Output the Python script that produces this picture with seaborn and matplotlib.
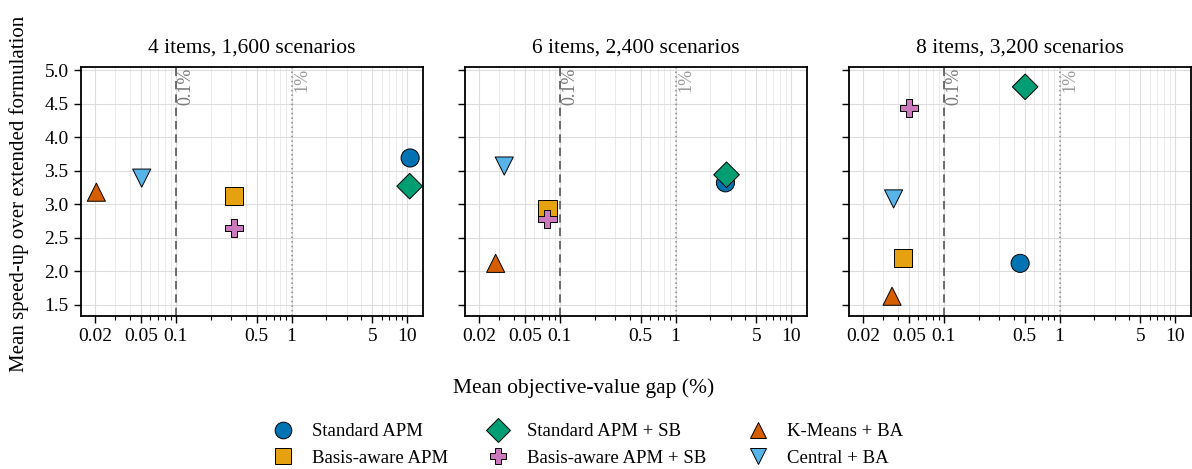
import numpy as np
import pandas as pd
import matplotlib
matplotlib.use("Agg")
import matplotlib.pyplot as plt
import matplotlib.ticker as mticker
import matplotlib.transforms as mtransforms
from matplotlib.lines import Line2D
import seaborn as sns

# ---------------- data ----------------
methods = ["Standard APM", "Basis-aware APM", "Standard APM + SB",
           "Basis-aware APM + SB", "K-Means + BA", "Central + BA"]
panel_titles = ["4 items, 1,600 scenarios", "6 items, 2,400 scenarios",
                "8 items, 3,200 scenarios"]

gap_4 = [10.6, 0.32, 10.5, 0.32, 0.0205, 0.0506]
speed_4 = [3.69, 3.13, 3.27, 2.65, 3.18, 3.39]
gap_6 = [2.70, 0.078, 2.76, 0.078, 0.0278, 0.033]
speed_6 = [3.32, 2.93, 3.44, 2.78, 2.12, 3.57]
gap_8 = [0.456, 0.044, 0.504, 0.050, 0.0356, 0.0367]
speed_8 = [2.12, 2.20, 4.75, 4.43, 1.63, 3.08]

xtick_vals = [0.02, 0.05, 0.1, 0.5, 1, 5, 10]
xtick_labels = ["0.02", "0.05", "0.1", "0.5", "1", "5", "10"]
ytick_vals = [1.5, 2.0, 2.5, 3.0, 3.5, 4.0, 4.5, 5.0]

colors = ["#0173b2", "#e5a10f", "#029e73", "#cc78bc", "#d55e00", "#56b4e9"]
marker_list = ["o", "s", "D", "P", "^", "v"]
palette = dict(zip(methods, colors))
markers = dict(zip(methods, marker_list))

frames = []
for title, g, s in zip(panel_titles, [gap_4, gap_6, gap_8], [speed_4, speed_6, speed_8]):
    frames.append(pd.DataFrame({"panel": title, "method": methods, "gap": g, "speed": s}))
df = pd.concat(frames, ignore_index=True)

# ---------------- style ----------------
sns.set_theme(style="ticks")
plt.rcParams["font.family"] = ["Liberation Serif", "DejaVu Serif"]
plt.rcParams["text.color"] = "black"
plt.rcParams["axes.labelcolor"] = "black"
plt.rcParams["xtick.color"] = "black"
plt.rcParams["ytick.color"] = "black"
plt.rcParams["xtick.labelcolor"] = "black"
plt.rcParams["ytick.labelcolor"] = "black"

fig = plt.figure(figsize=(11.92, 4.69), dpi=100)
lefts = [81 / 1192, 465 / 1192, 849 / 1192]
width = 342 / 1192
bottom = 1 - 315.7 / 469
height = (315.7 - 66.7) / 469

axes = []
for i, title in enumerate(panel_titles):
    ax = fig.add_axes([lefts[i], bottom, width, height])
    axes.append(ax)
    sub = df[df["panel"] == title]
    sns.scatterplot(data=sub, x="gap", y="speed", hue="method", style="method",
                    palette=palette, markers=markers, hue_order=methods,
                    style_order=methods, s=170, edgecolor="black", linewidth=0.7,
                    legend=False, ax=ax, zorder=5)
    ax.set_xscale("log")
    ax.set_xlim(0.0151, 13.7)
    ax.set_ylim(1.34, 5.05)
    ax.xaxis.set_major_locator(mticker.FixedLocator(xtick_vals))
    ax.xaxis.set_major_formatter(mticker.FixedFormatter(xtick_labels))
    ax.xaxis.set_minor_locator(mticker.LogLocator(base=10, subs=np.arange(2, 10) * 1.0, numticks=20))
    ax.xaxis.set_minor_formatter(mticker.NullFormatter())
    ax.yaxis.set_major_locator(mticker.FixedLocator(ytick_vals))
    ax.grid(True, which="major", color="#dddddd", linewidth=0.8, zorder=0)
    ax.grid(True, which="minor", axis="x", color="#e6e6e6", linewidth=0.6, zorder=0)
    ax.set_axisbelow(True)
    ax.axvline(0.1, color="#555555", linestyle=(0, (5, 3)), linewidth=1.2, zorder=2)
    ax.axvline(1.0, color="#888888", linestyle=(0, (1, 2)), linewidth=1.1, zorder=2)
    trans = mtransforms.blended_transform_factory(ax.transData, ax.transAxes)
    ax.text(0.103, 0.995, "0.1%", rotation=90, ha="left", va="top", color="#777777",
            fontsize=13, transform=trans)
    ax.text(1.03, 0.995, "1%", rotation=90, ha="left", va="top", color="#999999",
            fontsize=13, transform=trans)
    ax.set_title(title, fontsize=15.5, pad=10, color="black")
    ax.set_xlabel("")
    ax.set_ylabel("")
    ax.tick_params(axis="both", which="major", direction="out", length=5, width=1.0,
                   labelsize=14, color="black", labelcolor="black", pad=4)
    ax.tick_params(axis="x", which="minor", direction="out", length=3, width=0.8,
                   color="black")
    for sp in ax.spines.values():
        sp.set_visible(True)
        sp.set_color("black")
        sp.set_linewidth(1.3)
    if i > 0:
        ax.set_yticklabels([])

axes[0].set_ylabel("Mean speed-up over extended formulation", fontsize=15, color="black")
axes[0].yaxis.set_label_coords(-0.153, 0.49)
fig.text(583.5 / 1192, 1 - 388 / 469, "Mean objective-value gap (%)", ha="center",
         va="center", fontsize=15.5, color="black")

# legend: three columns placed individually
col_marker_x = [283, 498, 758]
fs_leg = 13.5
handle_len = 1.0
em_px = fs_leg * 100 / 72
half_handle_px = handle_len * em_px / 2
for c in range(3):
    ms = methods[c * 2:(c + 1) * 2]
    hs = [Line2D([0], [0], marker=markers[m], color="none", markerfacecolor=palette[m],
                 markeredgecolor="black", markeredgewidth=0.7, markersize=12,
                 linestyle="none") for m in ms]
    x0 = (col_marker_x[c] - half_handle_px) / 1192
    fig.legend(hs, ms, loc="center left", bbox_to_anchor=(x0, 1 - 445 / 469),
               frameon=False, fontsize=fs_leg, handlelength=handle_len,
               handletextpad=(29 - half_handle_px) / em_px,
               borderpad=0, borderaxespad=0, labelspacing=0.5)

fig.savefig("out.png", dpi=100)
